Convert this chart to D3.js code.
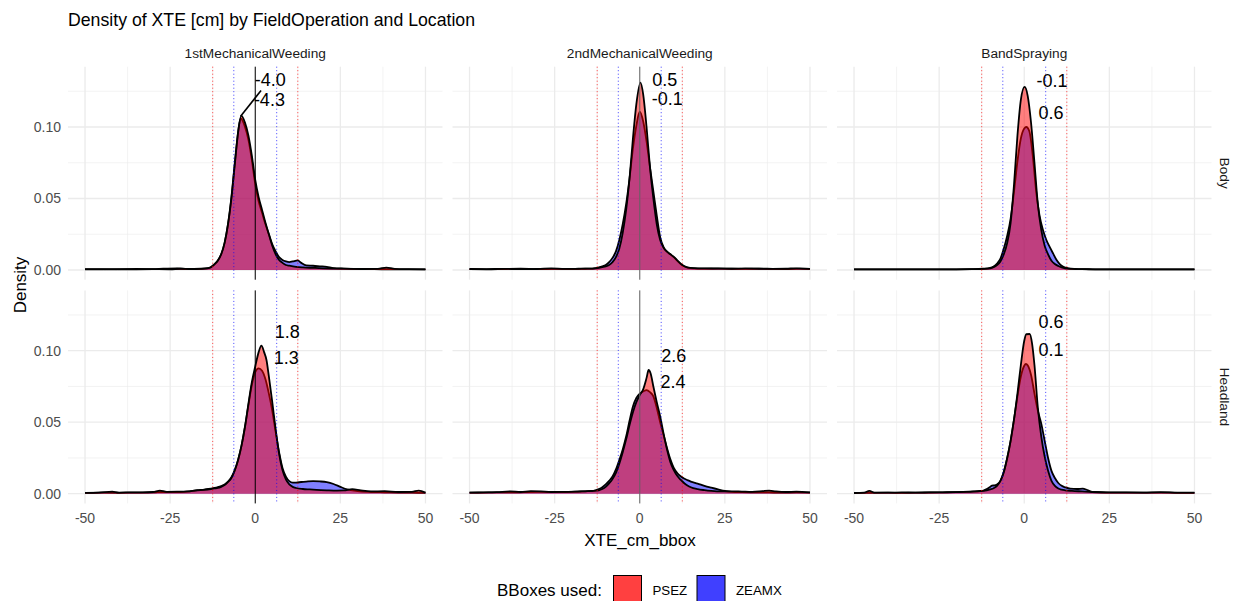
<!DOCTYPE html>
<html>
<head>
<meta charset="utf-8">
<script src="https://cdn.jsdelivr.net/npm/d3@7"></script>
<style>
  body { margin: 0; background: #fff; }
  text { font-family: "Liberation Sans", Arial, sans-serif; }
</style>
</head>
<body>
<div id="chart"></div>
<script>
const operations = ["1stMechanicalWeeding", "2ndMechanicalWeeding", "BandSpraying"];
const locations = ["Body", "Headland"];
const bboxes = ["PSEZ", "ZEAMX"];
const xTicks = [-50, -25, 0, 25, 50];
const xMinor = [-37.5, -12.5, 12.5, 37.5];
const yTicks = [0, 0.05, 0.10];
const yMinor = [0.025, 0.075, 0.125];
const redLimits = [-12.5, 12.5];
const blueLimits = [-6.3, 6.3];

// density curves, [XTE, density]
const psezBody1 = [[-50,0.0006],[-45,0.0006],[-40,0.0005],[-35,0.0007],[-30,0.0006],[-25,0.0005],[-22,0.0009],[-19,0.0006],[-16,0.0008],[-14,0.0012],[-13,0.002],[-12,0.004],[-11,0.0065],[-10,0.011],[-9,0.019],[-8,0.032],[-7,0.05],[-6,0.074],[-5,0.097],[-4.1,0.108],[-3,0.103],[-2,0.094],[-1,0.08],[0,0.063],[1,0.051],[2,0.042],[3,0.033],[4,0.025],[5,0.017],[6,0.011],[7,0.007],[8,0.005],[9,0.0035],[10,0.003],[12,0.0022],[14,0.0018],[17,0.0015],[20,0.0012],[24,0.001],[28,0.0008],[32,0.0007],[36,0.0008],[38.5,0.0017],[41,0.0008],[45,0.0006],[50,0.0005]];
const zeamxBody1 = [[-50,0.0005],[-45,0.0005],[-40,0.0006],[-35,0.0005],[-30,0.0006],[-27,0.0009],[-23,0.0011],[-20,0.0007],[-16,0.0009],[-14,0.0013],[-13,0.0021],[-12,0.004],[-11,0.0066],[-10,0.011],[-9,0.019],[-8,0.032],[-7,0.051],[-6,0.075],[-5,0.097],[-4.3,0.106],[-3,0.1],[-2,0.091],[-1,0.077],[0,0.06],[1,0.048],[2,0.04],[3,0.032],[4,0.025],[5,0.018],[6,0.013],[7,0.009],[8,0.007],[9,0.006],[10,0.0055],[11,0.006],[12.5,0.0067],[13.5,0.005],[15,0.0032],[17,0.003],[19,0.0026],[21,0.0022],[23,0.0013],[26,0.001],[30,0.0008],[35,0.0006],[40,0.0005],[45,0.0004],[50,0.0004]];
const psezBody2 = [[-50,0.0007],[-45,0.0006],[-40,0.0008],[-35,0.0006],[-30,0.0007],[-26,0.0012],[-22,0.0008],[-18,0.0009],[-15,0.001],[-13,0.0012],[-12,0.0015],[-11,0.002],[-10,0.0025],[-9,0.0035],[-8,0.0055],[-7,0.009],[-6,0.015],[-5,0.026],[-4,0.042],[-3,0.064],[-2,0.092],[-1,0.116],[0.2,0.131],[1,0.123],[2,0.1],[3,0.072],[4,0.05],[5,0.032],[6,0.021],[7,0.0155],[8,0.0128],[9,0.011],[10,0.0092],[11,0.0068],[12,0.0045],[13,0.0028],[14,0.0018],[16,0.0013],[19,0.0011],[23,0.001],[27,0.0009],[31,0.0011],[35,0.0009],[39,0.0008],[43,0.0009],[46,0.0012],[50,0.0008]];
const zeamxBody2 = [[-50,0.0006],[-45,0.0005],[-40,0.0007],[-35,0.0009],[-30,0.0006],[-25,0.0008],[-20,0.0007],[-16,0.0009],[-14,0.001],[-13,0.0013],[-12,0.0018],[-11,0.0025],[-10,0.0035],[-9,0.0055],[-8,0.0085],[-7,0.013],[-6,0.021],[-5,0.032],[-4,0.046],[-3,0.064],[-2,0.085],[-1,0.101],[0,0.1107],[1,0.104],[2,0.09],[3,0.072],[4,0.055],[5,0.038],[6,0.023],[7,0.016],[8,0.0128],[9,0.011],[10,0.009],[11,0.0065],[12,0.0042],[13,0.0026],[14,0.0017],[16,0.0012],[19,0.001],[23,0.0011],[27,0.0009],[31,0.0008],[35,0.001],[39,0.0008],[43,0.0007],[47,0.001],[50,0.0007]];
const psezBody3 = [[-50,0.0004],[-40,0.0004],[-30,0.0005],[-20,0.0005],[-15,0.0006],[-12,0.0008],[-10,0.0012],[-9,0.002],[-8,0.0035],[-7,0.006],[-6,0.011],[-5,0.019],[-4,0.033],[-3,0.06],[-2,0.094],[-1,0.119],[0.1,0.128],[1,0.122],[2,0.103],[3,0.075],[4,0.046],[5,0.028],[6,0.017],[7,0.011],[8,0.0065],[9,0.0042],[10,0.0028],[11,0.0018],[12,0.0012],[14,0.0008],[17,0.0006],[20,0.0005],[30,0.0004],[40,0.0004],[50,0.0004]];
const zeamxBody3 = [[-50,0.0004],[-40,0.0004],[-30,0.0004],[-20,0.0005],[-15,0.0006],[-12,0.0009],[-10,0.0015],[-9,0.0025],[-8,0.0045],[-7,0.008],[-6,0.015],[-5,0.024],[-4,0.036],[-3,0.055],[-2,0.076],[-1,0.092],[0,0.099],[0.6,0.1],[1.5,0.097],[2.5,0.08],[3.5,0.055],[4.5,0.038],[5.5,0.028],[6.5,0.021],[7.5,0.016],[8.5,0.0115],[9.5,0.007],[10.5,0.004],[11.5,0.0022],[13,0.0012],[15,0.0008],[18,0.0006],[22,0.0005],[30,0.0004],[40,0.0004],[50,0.0004]];
const psezHead1 = [[-50,0.0006],[-46,0.0008],[-42,0.0015],[-40,0.0008],[-36,0.001],[-33,0.0009],[-30,0.0012],[-28,0.0022],[-26,0.0013],[-23,0.0014],[-20,0.0016],[-17,0.0024],[-15,0.0027],[-13,0.0033],[-12,0.0037],[-11,0.004],[-10,0.0048],[-9,0.006],[-8,0.0082],[-7,0.011],[-6,0.0165],[-5,0.024],[-4,0.034],[-3,0.047],[-2,0.063],[-1,0.078],[0,0.089],[1,0.099],[1.8,0.1035],[2.6,0.099],[3.3,0.0935],[4,0.082],[5,0.064],[6,0.045],[7,0.028],[8,0.0165],[9,0.01],[10,0.0065],[11,0.0048],[12,0.004],[14,0.0033],[16,0.003],[18,0.0027],[21,0.0024],[24,0.0022],[26,0.0023],[28.5,0.0032],[31,0.0023],[34,0.0016],[38,0.0018],[42,0.0012],[46,0.0013],[48,0.0022],[50,0.0008]];
const zeamxHead1 = [[-50,0.0006],[-45,0.0007],[-40,0.0006],[-35,0.0008],[-30,0.0009],[-27,0.0012],[-24,0.0011],[-20,0.0015],[-17,0.0025],[-15,0.0029],[-13,0.0035],[-12,0.004],[-11,0.0046],[-10,0.0054],[-9,0.0065],[-8,0.0085],[-7,0.0115],[-6,0.0165],[-5,0.024],[-4,0.034],[-3,0.047],[-2,0.062],[-1,0.076],[0,0.085],[1,0.0877],[2,0.086],[3,0.08],[4,0.07],[5,0.058],[6,0.043],[7,0.029],[8,0.018],[9,0.012],[10,0.0088],[11,0.0078],[12,0.0078],[13.5,0.0082],[15,0.0085],[17,0.0088],[19,0.0086],[21,0.0081],[23,0.0068],[25,0.0048],[27,0.003],[30,0.0018],[34,0.0012],[38,0.001],[42,0.0008],[46,0.0007],[50,0.0006]];
const psezHead2 = [[-50,0.0008],[-46,0.0009],[-42,0.0011],[-38,0.0016],[-35,0.0012],[-32,0.0018],[-29,0.0016],[-26,0.0012],[-22,0.0013],[-19,0.0014],[-16,0.0017],[-14,0.0019],[-12,0.0024],[-11,0.0033],[-10,0.0048],[-9,0.0072],[-8,0.0102],[-7,0.0145],[-6,0.021],[-5,0.029],[-4,0.038],[-3,0.048],[-2,0.057],[-1,0.064],[0,0.069],[1,0.073],[2,0.081],[2.6,0.0865],[3.2,0.084],[4,0.075],[5,0.064],[6,0.054],[7,0.042],[8,0.031],[9,0.022],[10,0.0165],[11,0.0125],[12,0.0098],[13,0.0075],[14,0.0058],[15,0.0045],[17,0.0032],[19,0.0025],[21,0.002],[24,0.0016],[27,0.0017],[30,0.0015],[33,0.0013],[36,0.0018],[38,0.0022],[40,0.0016],[43,0.0012],[46,0.0015],[50,0.0009]];
const zeamxHead2 = [[-50,0.0007],[-46,0.0008],[-42,0.001],[-38,0.0009],[-34,0.0011],[-30,0.0013],[-27,0.0012],[-24,0.0011],[-20,0.0013],[-17,0.0016],[-15,0.0018],[-14,0.0019],[-13,0.0024],[-12,0.0032],[-11,0.0045],[-10,0.0065],[-9,0.009],[-8,0.012],[-7,0.017],[-6,0.0236],[-5,0.031],[-4,0.04],[-3,0.051],[-2,0.061],[-1,0.067],[0,0.07],[1,0.0715],[2,0.0725],[3,0.071],[4,0.068],[5,0.06],[6,0.05],[7,0.041],[8,0.032],[9,0.024],[10,0.018],[11,0.0145],[12,0.0122],[13,0.0106],[14,0.0095],[15,0.0085],[17,0.0071],[19,0.0055],[21,0.0042],[23,0.003],[25,0.0019],[27,0.0013],[30,0.0011],[34,0.001],[38,0.0009],[42,0.0008],[46,0.0009],[50,0.0008]];
const psezHead3 = [[-50,0.0005],[-47,0.0008],[-45.5,0.002],[-44,0.0008],[-40,0.0007],[-36,0.0009],[-32,0.0008],[-28,0.0009],[-24,0.001],[-20,0.0011],[-17,0.0013],[-15,0.0015],[-13,0.0018],[-12,0.002],[-11,0.0024],[-10,0.003],[-9,0.0038],[-8,0.0055],[-7,0.009],[-6,0.015],[-5,0.025],[-4,0.037],[-3,0.052],[-2,0.07],[-1,0.09],[0,0.107],[0.6,0.1115],[1.6,0.1117],[2.3,0.105],[3,0.09],[4,0.06],[5,0.04],[6,0.026],[7,0.016],[8,0.009],[9,0.0055],[10,0.0036],[11,0.0028],[12,0.0024],[14,0.002],[17,0.0016],[20,0.0012],[25,0.0009],[30,0.0009],[35,0.0008],[40,0.0011],[45,0.0008],[50,0.0007]];
const zeamxHead3 = [[-50,0.0005],[-45,0.0006],[-40,0.0007],[-35,0.0006],[-30,0.0008],[-25,0.0009],[-21,0.0011],[-18,0.0013],[-15,0.0016],[-13,0.0019],[-12,0.0022],[-11,0.0032],[-10,0.0048],[-9.5,0.0057],[-8.8,0.0058],[-8,0.0065],[-7,0.009],[-6,0.0155],[-5,0.025],[-4,0.037],[-3,0.052],[-2,0.068],[-1,0.082],[0,0.0895],[0.5,0.0907],[1,0.0898],[2,0.083],[3,0.07],[4,0.058],[5,0.049],[6,0.037],[7,0.025],[8,0.016],[9,0.011],[10,0.0075],[11,0.0055],[12,0.0045],[13.5,0.0035],[15.5,0.0033],[17.2,0.0036],[18.5,0.0026],[20,0.0012],[24,0.0008],[30,0.0007],[35,0.0007],[40,0.0008],[45,0.0006],[50,0.0006]];

const psezCurves = [[psezBody1, psezBody2, psezBody3], [psezHead1, psezHead2, psezHead3]];
const zeamxCurves = [[zeamxBody1, zeamxBody2, zeamxBody3], [zeamxHead1, zeamxHead2, zeamxHead3]];

// mean labels: [location, operation, text, x, density]
const meanLabels = [
  [0, 0, "-4.0", -0.15, 0.133], [0, 0, "-4.3", -0.4, 0.119],
  [0, 1, "0.5", 3.7, 0.133], [0, 1, "-0.1", 3.5, 0.1196],
  [0, 2, "-0.1", 3.6, 0.1324], [0, 2, "0.6", 4.2, 0.110],
  [1, 0, "1.8", 5.7, 0.1133], [1, 0, "1.3", 5.4, 0.0949],
  [1, 1, "2.6", 6.3, 0.0963], [1, 1, "2.4", 6.1, 0.0783],
  [1, 2, "0.6", 4.2, 0.1203], [1, 2, "0.1", 4.2, 0.1005]
];
// repel segment in the first panel: [x0, y0, x1, y1]
const repelSegment = [-4.3, 0.1075, 1.7, 0.1255];
const zeroLineColor = ["#000", "#666", null];

const width = 1239, height = 601;
const panelLeft = [68, 452.5, 837];
const panelTop = [66.7, 290.4];
const panelW = 374.5, panelH = 213;
const yMax = 0.1354;

const svg = d3.select("#chart").append("svg")
  .attr("width", width)
  .attr("height", height);

svg.append("text")
  .attr("x", 68).attr("y", 26)
  .attr("font-size", 17.7)
  .text("Density of XTE [cm] by FieldOperation and Location");

const fillColor = { PSEZ: "#ff0000", ZEAMX: "#0000ff" };

locations.forEach((loc, li) => {
  operations.forEach((op, oi) => {
    const x = d3.scaleLinear().domain([-55, 55]).range([panelLeft[oi], panelLeft[oi] + panelW]);
    const y = d3.scaleLinear().domain([-0.05 * yMax, 1.05 * yMax]).range([panelTop[li] + panelH, panelTop[li]]);
    const g = svg.append("g");

    // grid
    g.selectAll(".xminor").data(xMinor).enter().append("line")
      .attr("x1", d => x(d)).attr("x2", d => x(d))
      .attr("y1", y.range()[1]).attr("y2", y.range()[0])
      .attr("stroke", "#ebebeb").attr("stroke-width", 0.6);
    g.selectAll(".yminor").data(yMinor).enter().append("line")
      .attr("x1", x.range()[0]).attr("x2", x.range()[1])
      .attr("y1", d => y(d)).attr("y2", d => y(d))
      .attr("stroke", "#ebebeb").attr("stroke-width", 0.6);
    g.selectAll(".xmajor").data(xTicks).enter().append("line")
      .attr("x1", d => x(d)).attr("x2", d => x(d))
      .attr("y1", y.range()[1]).attr("y2", y.range()[0])
      .attr("stroke", "#ebebeb").attr("stroke-width", 1.3);
    g.selectAll(".ymajor").data(yTicks).enter().append("line")
      .attr("x1", x.range()[0]).attr("x2", x.range()[1])
      .attr("y1", d => y(d)).attr("y2", d => y(d))
      .attr("stroke", "#ebebeb").attr("stroke-width", 1.3);

    const area = d3.area()
      .x(d => x(d[0])).y0(y(0)).y1(d => y(d[1]))
      .curve(d3.curveMonotoneX);
    const line = d3.line()
      .x(d => x(d[0])).y(d => y(d[1]))
      .curve(d3.curveMonotoneX);

    // ZEAMX underneath, PSEZ on top
    [["ZEAMX", zeamxCurves[li][oi]], ["PSEZ", psezCurves[li][oi]]].forEach(([b, pts]) => {
      g.append("path").attr("d", area(pts))
        .attr("fill", fillColor[b]).attr("fill-opacity", 0.5);
      g.append("path").attr("d", line(pts))
        .attr("fill", "none").attr("stroke", "#000").attr("stroke-width", 1.8)
        .attr("stroke-linejoin", "round");
    });

    if (zeroLineColor[oi]) {
      g.append("line")
        .attr("x1", x(0)).attr("x2", x(0))
        .attr("y1", y.range()[1]).attr("y2", y.range()[0])
        .attr("stroke", zeroLineColor[oi]).attr("stroke-width", 1);
    }
    g.selectAll(".redv").data(redLimits).enter().append("line")
      .attr("x1", d => x(d)).attr("x2", d => x(d))
      .attr("y1", y.range()[1]).attr("y2", y.range()[0])
      .attr("stroke", "#ff0000").attr("stroke-width", 0.9).attr("stroke-opacity", 0.85)
      .attr("stroke-dasharray", "1,2.5");
    g.selectAll(".bluev").data(blueLimits).enter().append("line")
      .attr("x1", d => x(d)).attr("x2", d => x(d))
      .attr("y1", y.range()[1]).attr("y2", y.range()[0])
      .attr("stroke", "#0000ff").attr("stroke-width", 0.9).attr("stroke-opacity", 0.85)
      .attr("stroke-dasharray", "1,2.5");

    if (li === 0 && oi === 0) {
      g.append("line")
        .attr("x1", x(repelSegment[0])).attr("y1", y(repelSegment[1]))
        .attr("x2", x(repelSegment[2])).attr("y2", y(repelSegment[3]))
        .attr("stroke", "#000").attr("stroke-width", 1.6);
    }

    g.selectAll(".mean").data(meanLabels.filter(d => d[0] === li && d[1] === oi)).enter().append("text")
      .attr("x", d => x(d[3])).attr("y", d => y(d[4]))
      .attr("dy", "0.36em")
      .attr("font-size", 18)
      .text(d => d[2]);

    // strips
    if (li === 0) {
      svg.append("text")
        .attr("x", panelLeft[oi] + panelW / 2).attr("y", 53.5)
        .attr("dy", "0.35em").attr("text-anchor", "middle")
        .attr("font-size", 13.7).attr("fill", "#1a1a1a")
        .text(op);
    }
    if (oi === 2) {
      const cy = panelTop[li] + panelH / 2;
      svg.append("text")
        .attr("transform", `translate(1225,${cy}) rotate(90)`)
        .attr("dy", "0.35em").attr("text-anchor", "middle")
        .attr("font-size", 13.7).attr("fill", "#1a1a1a")
        .text(loc);
    }
    // axes labels
    if (oi === 0) {
      svg.selectAll(null).data(yTicks).enter().append("text")
        .attr("x", 61).attr("y", d => y(d))
        .attr("dy", "0.35em").attr("text-anchor", "end")
        .attr("font-size", 14).attr("fill", "#4d4d4d")
        .text(d3.format(".2f"));
    }
    if (li === 1) {
      svg.selectAll(null).data(xTicks).enter().append("text")
        .attr("x", d => x(d)).attr("y", 518.5)
        .attr("dy", "0.35em").attr("text-anchor", "middle")
        .attr("font-size", 14).attr("fill", "#4d4d4d")
        .text(d => d);
    }
  });
});

svg.append("text")
  .attr("transform", "translate(20,285) rotate(-90)")
  .attr("dy", "0.35em").attr("text-anchor", "middle")
  .attr("font-size", 17).text("Density");

svg.append("text")
  .attr("x", 640).attr("y", 540)
  .attr("dy", "0.35em").attr("text-anchor", "middle")
  .attr("font-size", 17).text("XTE_cm_bbox");

// legend
const legend = svg.append("g");
legend.append("text")
  .attr("x", 497).attr("y", 590)
  .attr("dy", "0.35em").attr("font-size", 17)
  .text("BBoxes used:");
const keyX = { PSEZ: 613.5, ZEAMX: 697 };
const keyFill = { PSEZ: "#ff4040", ZEAMX: "#4040ff" };
bboxes.forEach(b => {
  legend.append("rect")
    .attr("x", keyX[b]).attr("y", 575.5)
    .attr("width", 28).attr("height", 29)
    .attr("fill", keyFill[b]).attr("stroke", "#000").attr("stroke-width", 1);
  legend.append("text")
    .attr("x", keyX[b] + 39).attr("y", 590)
    .attr("dy", "0.35em").attr("font-size", 13.3)
    .text(b);
});
</script>
</body>
</html>
